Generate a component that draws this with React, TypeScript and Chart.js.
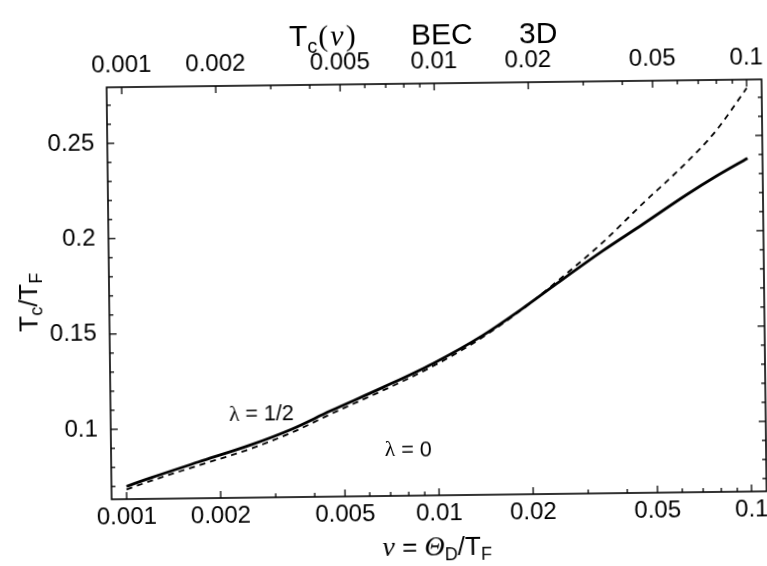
import React, { useEffect, useRef } from 'react';
import { Chart, registerables } from 'chart.js';

Chart.register(...registerables);

// ν = Θ_D / T_F values sampled along the curves
const nuValues = [0.001, 0.0012, 0.0017, 0.0025, 0.0034, 0.0045, 0.0067, 0.0097, 0.014, 0.0194, 0.0242, 0.034, 0.0458, 0.0634, 0.0793, 0.1];
// T_c/T_F for λ = 1/2 (solid)
const tcLambdaHalf = [0.0700, 0.0744, 0.0823, 0.0909, 0.0990, 0.1081, 0.1204, 0.1326, 0.1469, 0.1623, 0.1735, 0.1903, 0.2040, 0.2192, 0.2289, 0.2381];
// T_c/T_F for λ = 0 (dashed)
const tcLambdaZero = [0.0684, 0.0728, 0.0805, 0.0889, 0.0972, 0.1064, 0.1188, 0.1312, 0.1460, 0.1621, 0.1745, 0.1946, 0.2147, 0.2359, 0.2525, 0.2749];

const xTickValues = [0.001, 0.002, 0.005, 0.01, 0.02, 0.05, 0.1];
const xTickLabels = ['0.001', '0.002', '0.005', '0.01', '0.02', '0.05', '0.1'];
const xMinorTicks = [0.003, 0.004, 0.006, 0.007, 0.008, 0.009, 0.03, 0.04, 0.06, 0.07, 0.08, 0.09];
const yTickValues = [0.1, 0.15, 0.2, 0.25];
const yTickLabels = ['0.1', '0.15', '0.2', '0.25'];
const yMinorTicks = [0.07, 0.08, 0.09, 0.11, 0.12, 0.13, 0.14, 0.16, 0.17, 0.18, 0.19, 0.21, 0.22, 0.23, 0.24, 0.26, 0.27];

const xMin = 0.000895;
const xMax = 0.1117;
const yMin = 0.0633;
const yMax = 0.2794;

const labelHalf = { text: 'λ = 1/2', nu: 0.00272, tc: 0.1066 };
const labelZero = { text: 'λ = 0', nu: 0.008, tc: 0.0871 };

const SANS = '"Liberation Sans", Arial, Helvetica, sans-serif';
const SERIF = '"Liberation Serif", "Times New Roman", serif';

type Part = { t: string; font: string; dy?: number; gap?: number };

function richWidth(ctx: CanvasRenderingContext2D, parts: Part[]) {
  let w = 0;
  for (const p of parts) {
    ctx.font = p.font;
    w += ctx.measureText(p.t).width + (p.gap || 0);
  }
  return w;
}

function drawRich(ctx: CanvasRenderingContext2D, parts: Part[], x: number, y: number) {
  let cx = x;
  for (const p of parts) {
    ctx.font = p.font;
    ctx.fillText(p.t, cx, y + (p.dy || 0));
    cx += ctx.measureText(p.t).width + (p.gap || 0);
  }
}

const framePlugin = {
  id: 'framePlugin',
  afterDraw(chart: any) {
    const { ctx, chartArea: a, scales } = chart;
    const xs = scales.x;
    const ys = scales.y;
    ctx.save();
    ctx.strokeStyle = '#000';
    ctx.fillStyle = '#000';
    ctx.lineWidth = 1.6;
    ctx.strokeRect(a.left, a.top, a.right - a.left, a.bottom - a.top);

    ctx.lineWidth = 1.3;
    const tick = (x1: number, y1: number, x2: number, y2: number) => {
      ctx.beginPath();
      ctx.moveTo(x1, y1);
      ctx.lineTo(x2, y2);
      ctx.stroke();
    };
    for (const v of xTickValues) {
      const p = xs.getPixelForValue(v);
      tick(p, a.bottom, p, a.bottom - 7);
      tick(p, a.top, p, a.top + 7);
    }
    for (const v of xMinorTicks) {
      const p = xs.getPixelForValue(v);
      tick(p, a.bottom, p, a.bottom - 4);
      tick(p, a.top, p, a.top + 4);
    }
    for (const v of yTickValues) {
      const p = ys.getPixelForValue(v);
      tick(a.left, p, a.left + 7, p);
      tick(a.right, p, a.right - 7, p);
    }
    for (const v of yMinorTicks) {
      const p = ys.getPixelForValue(v);
      tick(a.left, p, a.left + 4, p);
      tick(a.right, p, a.right - 4, p);
    }

    ctx.textBaseline = 'alphabetic';

    // Title
    const big = `30px ${SANS}`;
    const titleLeft: Part[] = [
      { t: 'T', font: big },
      { t: 'c', font: `20px ${SANS}`, dy: 7, gap: 1 },
      { t: '(', font: `30px ${SERIF}`, gap: 2 },
      { t: 'ν', font: `italic 30px ${SERIF}`, gap: 2 },
      { t: ')', font: `30px ${SERIF}` },
    ];
    drawRich(ctx, titleLeft, 292, 45);
    ctx.font = big;
    ctx.fillText('BEC', 414, 45);
    ctx.fillText('3D', 522, 45);

    // x-axis title
    const xt: Part[] = [
      { t: 'ν', font: `italic 28px ${SERIF}` },
      { t: ' = ', font: `26px ${SANS}` },
      { t: 'Θ', font: `italic 28px ${SERIF}` },
      { t: 'D', font: `18px ${SANS}`, dy: 5 },
      { t: '/T', font: `26px ${SANS}` },
      { t: 'F', font: `18px ${SANS}`, dy: 5 },
    ];
    const xw = richWidth(ctx, xt);
    drawRich(ctx, xt, 434 - xw / 2, 556);

    // y-axis title
    const yt: Part[] = [
      { t: 'T', font: `26px ${SANS}` },
      { t: 'c', font: `18px ${SANS}`, dy: 5 },
      { t: '/T', font: `26px ${SANS}` },
      { t: 'F', font: `18px ${SANS}`, dy: 5 },
    ];
    const yw = richWidth(ctx, yt);
    ctx.save();
    ctx.translate(37, 298);
    ctx.rotate(-Math.PI / 2);
    drawRich(ctx, yt, -yw / 2, 0);
    ctx.restore();

    // curve annotations
    const ann = (l: { text: string; nu: number; tc: number }) => {
      const px = xs.getPixelForValue(l.nu);
      const py = ys.getPixelForValue(l.tc);
      const parts: Part[] = [
        { t: 'λ', font: `21.5px ${SERIF}` },
        { t: l.text.slice(1), font: `21.5px ${SANS}` },
      ];
      const w = richWidth(ctx, parts);
      ctx.textBaseline = 'middle';
      drawRich(ctx, parts, px - w / 2, py);
      ctx.textBaseline = 'alphabetic';
    };
    ann(labelHalf);
    ann(labelZero);
    ctx.restore();
  },
};

export default function App() {
  const ref = useRef<HTMLCanvasElement | null>(null);
  useEffect(() => {
    if (!ref.current) return;
    const tickFont = { family: SANS, size: 24 };
    const xAxisCommon = {
      type: 'logarithmic' as const,
      min: xMin,
      max: xMax,
      grid: { display: false, drawTicks: false },
      border: { display: false },
      afterBuildTicks: (s: any) => {
        s.ticks = xTickValues.map((v) => ({ value: v }));
      },
    };
    const chart = new Chart(ref.current, {
      type: 'line',
      data: {
        datasets: [
          {
            label: 'λ = 1/2',
            data: nuValues.map((x, i) => ({ x, y: tcLambdaHalf[i] })),
            borderColor: '#000',
            borderWidth: 2.8,
            pointRadius: 0,
            cubicInterpolationMode: 'monotone',
            xAxisID: 'x',
            yAxisID: 'y',
          },
          {
            label: 'λ = 0',
            data: nuValues.map((x, i) => ({ x, y: tcLambdaZero[i] })),
            borderColor: '#000',
            borderWidth: 1.8,
            borderDash: [6, 5],
            pointRadius: 0,
            cubicInterpolationMode: 'monotone',
            xAxisID: 'x',
            yAxisID: 'y',
          },
        ],
      },
      options: {
        animation: false,
        responsive: false,
        events: [],
        layout: { padding: { left: 0, right: 3, top: 0, bottom: 0 } },
        plugins: { legend: { display: false }, tooltip: { enabled: false }, title: { display: false } },
        scales: {
          x: {
            ...xAxisCommon,
            position: 'bottom',
            ticks: {
              autoSkip: false,
              maxRotation: 0,
              padding: 4,
              color: '#000',
              font: tickFont,
              callback: (_v: any, i: number) => xTickLabels[i],
            },
            afterFit: (s: any) => {
              s.height = 70;
              s.paddingLeft = 0;
              s.paddingRight = 0;
            },
          },
          x2: {
            ...xAxisCommon,
            position: 'top',
            ticks: {
              autoSkip: false,
              maxRotation: 0,
              padding: 7,
              color: '#000',
              font: tickFont,
              callback: (_v: any, i: number) => xTickLabels[i],
            },
            afterFit: (s: any) => {
              s.height = 84;
              s.paddingLeft = 0;
              s.paddingRight = 0;
            },
          },
          y: {
            type: 'linear',
            min: yMin,
            max: yMax,
            grid: { display: false, drawTicks: false },
            border: { display: false },
            afterBuildTicks: (s: any) => {
              s.ticks = yTickValues.map((v) => ({ value: v }));
            },
            ticks: {
              padding: 13,
              color: '#000',
              font: tickFont,
              callback: (_v: any, i: number) => yTickLabels[i],
            },
            afterFit: (s: any) => {
              s.width = 109;
              s.paddingTop = 0;
              s.paddingBottom = 0;
            },
          },
        },
      } as any,
      plugins: [framePlugin],
    });
    return () => chart.destroy();
  }, []);

  return (
    <div
      style={{
        position: 'fixed',
        left: 0,
        top: 0,
        width: 767,
        height: 566,
        background: '#fff',
        overflow: 'hidden',
      }}
    >
      <canvas
        ref={ref}
        width={767}
        height={566}
        style={{ width: 767, height: 566, display: 'block', transform: 'rotate(-0.7deg)', transformOrigin: '383.5px 283px' }}
      />
    </div>
  );
}
